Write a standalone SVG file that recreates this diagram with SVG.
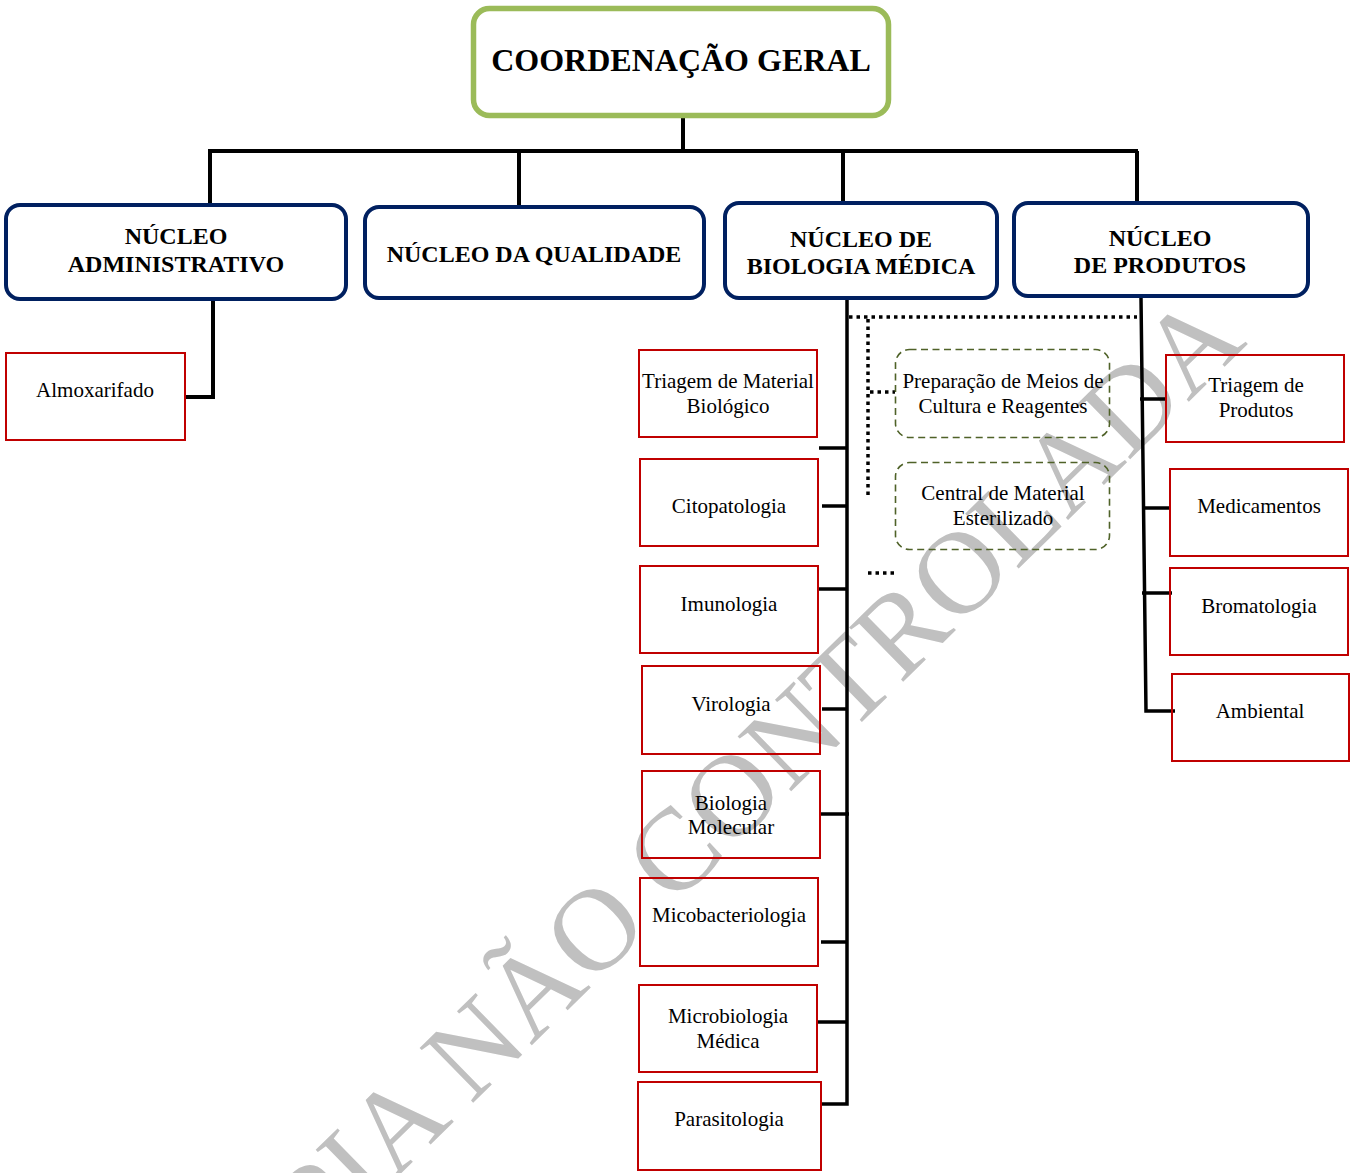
<svg xmlns="http://www.w3.org/2000/svg" width="1351" height="1173" viewBox="0 0 1351 1173">
<style>
.bg{fill:#ffffff}
.wm{font-family:"Liberation Serif","Times New Roman",serif;font-size:117px;fill:#c0c0c0}
.top{fill:none;stroke:#9bbb59;stroke-width:5.5}
.nuc{fill:none;stroke:#002060;stroke-width:4}
.red{fill:none;stroke:#c00000;stroke-width:2}
.dash{fill:none;stroke:#4f6228;stroke-width:1.6;stroke-dasharray:7 4.5}
.t{font-family:"Liberation Serif","Times New Roman",serif;font-size:21px;fill:#000;text-anchor:middle}
.tb{font-family:"Liberation Serif","Times New Roman",serif;font-size:24px;font-weight:bold;fill:#000;text-anchor:middle}
.tt{font-family:"Liberation Serif","Times New Roman",serif;font-size:32px;font-weight:bold;fill:#000;text-anchor:middle}
.ln{fill:none;stroke:#000;stroke-width:4}
.st{fill:none;stroke:#000;stroke-width:3.5}
.dot{fill:none;stroke:#000;stroke-width:3.5;stroke-dasharray:3.5 4}
</style>
<rect class="bg" x="0" y="0" width="1351" height="1173"/>
<text class="wm" x="726" y="855" text-anchor="middle" transform="rotate(-44.4 726 855)">CÓPIA NÃO CONTROLADA</text>
<g id="connectors">
<path class="ln" d="M683 117 V151 M208 151 H1138 M210 151 V205 M519 151 V207 M843 151 V203 M1137 151 V203"/>
<path class="ln" d="M213 301 V397 H186"/>
<path class="st" d="M847 298 V1104 H820"/>
<path class="st" d="M819 448 H847 M822 506 H847 M819 589 H847 M822 709 H848 M821 814 H849 M821 942 H848 M817 1022 H848"/>
<path class="st" d="M1141 298 L1146 711 H1175"/>
<path class="st" d="M1140 399 H1165 M1143 508 H1169 M1142 593 H1172"/>
<path class="dot" d="M849 317 H1137 M868 319 V497 M870 392 H895 M868 573 H895"/>
</g>
<g id="coordenacao"><rect class="top" x="473.5" y="8.5" width="415" height="107" rx="16"/><text class="tt" x="681" y="71">COORDENAÇÃO GERAL</text></g>
<g id="nucleo-administrativo"><rect class="nuc" x="6" y="205" width="340" height="94" rx="14"/><text class="tb" x="176" y="244">NÚCLEO</text><text class="tb" x="176" y="272">ADMINISTRATIVO</text></g>
<g id="nucleo-qualidade"><rect class="nuc" x="365" y="207" width="339" height="91" rx="14"/><text class="tb" x="534" y="262">NÚCLEO DA QUALIDADE</text></g>
<g id="nucleo-biologia"><rect class="nuc" x="725" y="203" width="272" height="95" rx="14"/><text class="tb" x="861" y="247">NÚCLEO DE</text><text class="tb" x="861" y="274">BIOLOGIA MÉDICA</text></g>
<g id="nucleo-produtos"><rect class="nuc" x="1014" y="203" width="294" height="93" rx="14"/><text class="tb" x="1160" y="246">NÚCLEO</text><text class="tb" x="1160" y="273">DE PRODUTOS</text></g>
<g id="almoxarifado"><rect class="red" x="6" y="353" width="179" height="87"/><text class="t" x="95" y="397">Almoxarifado</text></g>
<g id="triagem-material"><rect class="red" x="639" y="350" width="178" height="87"/><text class="t" x="728" y="388">Triagem de Material</text><text class="t" x="728" y="413">Biológico</text></g>
<g id="citopatologia"><rect class="red" x="640" y="459" width="178" height="87"/><text class="t" x="729" y="513">Citopatologia</text></g>
<g id="imunologia"><rect class="red" x="640" y="566" width="178" height="87"/><text class="t" x="729" y="611">Imunologia</text></g>
<g id="virologia"><rect class="red" x="642" y="666" width="178" height="88"/><text class="t" x="731" y="711">Virologia</text></g>
<g id="biologia-molecular"><rect class="red" x="642" y="771" width="178" height="87"/><text class="t" x="731" y="810">Biologia</text><text class="t" x="731" y="834">Molecular</text></g>
<g id="micobacteriologia"><rect class="red" x="640" y="878" width="178" height="88"/><text class="t" x="729" y="922">Micobacteriologia</text></g>
<g id="microbiologia-medica"><rect class="red" x="639" y="985" width="178" height="87"/><text class="t" x="728" y="1023">Microbiologia</text><text class="t" x="728" y="1048">Médica</text></g>
<g id="parasitologia"><rect class="red" x="638" y="1082" width="183" height="88"/><text class="t" x="729" y="1126">Parasitologia</text></g>
<g id="preparacao-meios"><rect class="dash" x="895.5" y="349.5" width="214" height="88" rx="14"/><text class="t" x="1003" y="388">Preparação de Meios de</text><text class="t" x="1003" y="413">Cultura e Reagentes</text></g>
<g id="central-material"><rect class="dash" x="895.5" y="462.5" width="214" height="87" rx="14"/><text class="t" x="1003" y="500">Central de Material</text><text class="t" x="1003" y="525">Esterilizado</text></g>
<g id="triagem-produtos"><rect class="red" x="1166" y="355" width="178" height="87"/><text class="t" x="1256" y="392">Triagem de</text><text class="t" x="1256" y="417">Produtos</text></g>
<g id="medicamentos"><rect class="red" x="1170" y="469" width="178" height="87"/><text class="t" x="1259" y="513">Medicamentos</text></g>
<g id="bromatologia"><rect class="red" x="1170" y="568" width="178" height="87"/><text class="t" x="1259" y="613">Bromatologia</text></g>
<g id="ambiental"><rect class="red" x="1172" y="674" width="177" height="87"/><text class="t" x="1260" y="718">Ambiental</text></g>
</svg>
